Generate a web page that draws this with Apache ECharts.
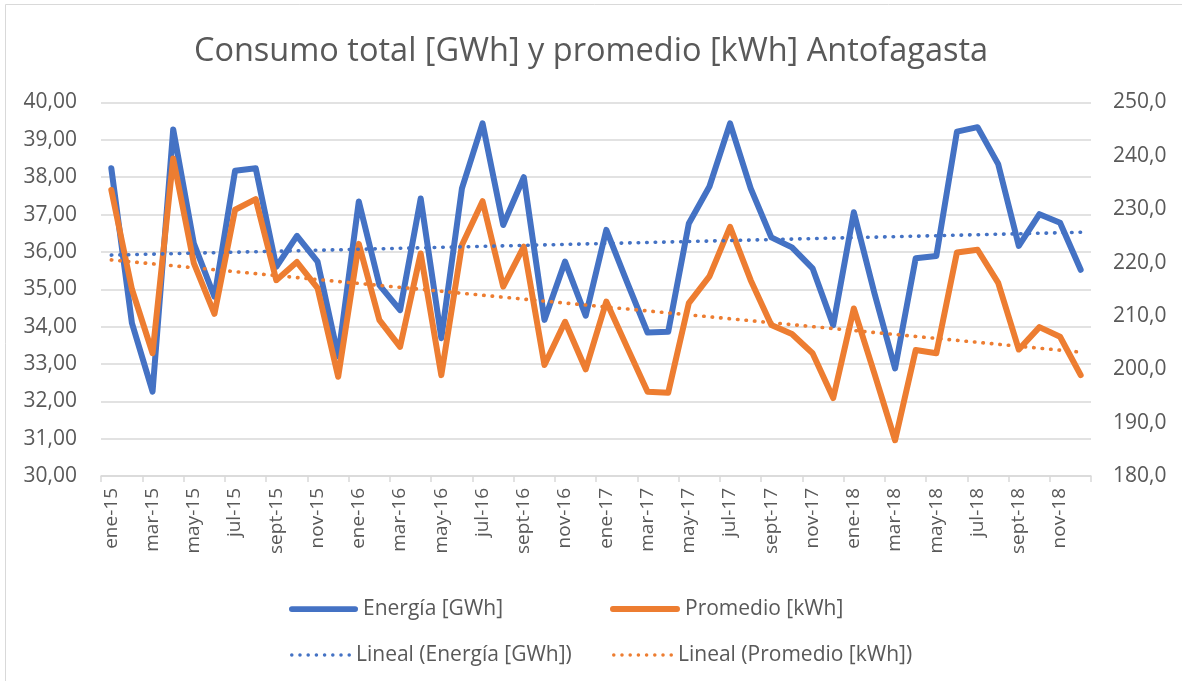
<!DOCTYPE html>
<html>
<head>
<meta charset="utf-8">
<script src="https://cdn.jsdelivr.net/npm/echarts@6/dist/echarts.min.js"></script>
<style>
  html, body { margin: 0; padding: 0; background: #fff; }
  #chart { width: 1182px; height: 681px; }
</style>
</head>
<body>
<div id="chart"></div>
<script>
// Monthly categories, Jan 2015 – Dec 2018
const monthNames = ['ene', 'feb', 'mar', 'abr', 'may', 'jun', 'jul', 'ago', 'sept', 'oct', 'nov', 'dic'];
const years = ['15', '16', '17', '18'];
const categories = [];
years.forEach(y => monthNames.forEach(m => categories.push(m + '-' + y)));

// Total energy consumption [GWh] (left axis)
const energia = [
  38.24, 34.09, 32.26, 39.28, 36.23, 34.80, 38.17, 38.24, 35.60, 36.43, 35.74, 33.20,
  37.35, 35.11, 34.44, 37.43, 33.69, 37.70, 39.44, 36.72, 38.00, 34.18, 35.74, 34.29,
  36.59, 35.20, 33.84, 33.86, 36.76, 37.75, 39.44, 37.70, 36.39, 36.12, 35.56, 34.04,
  37.06, 34.89, 32.88, 35.83, 35.89, 39.22, 39.34, 38.35, 36.16, 37.01, 36.78, 35.52
];

// Average consumption per customer [kWh] (right axis)
const promedio = [
  233.6, 215.0, 203.0, 239.5, 219.9, 210.4, 229.9, 231.9, 216.7, 220.1, 215.2, 198.6,
  223.5, 209.2, 204.2, 221.7, 198.9, 223.3, 231.5, 215.5, 223.0, 200.8, 208.9, 200.0,
  212.7, 204.2, 195.8, 195.6, 212.4, 217.4, 226.7, 216.7, 208.3, 206.6, 203.0, 194.6,
  211.4, 199.2, 186.7, 203.6, 203.0, 221.9, 222.4, 216.2, 203.7, 207.9, 206.1, 198.9
];

// Least-squares linear trend over the month index
function linearTrend(values) {
  const n = values.length;
  let sx = 0, sy = 0, sxx = 0, sxy = 0;
  values.forEach((v, i) => { sx += i; sy += v; sxx += i * i; sxy += i * v; });
  const slope = (n * sxy - sx * sy) / (n * sxx - sx * sx);
  const intercept = (sy - slope * sx) / n;
  return values.map((_, i) => +(intercept + slope * i).toFixed(4));
}

const trendEnergia = linearTrend(energia);
const trendPromedio = linearTrend(promedio);

const textColor = '#595959';
const gridColor = '#d9d9d9';
const fontFamily = '"Open Sans", "Noto Sans", sans-serif';
const blue = '#4472C4';
const orange = '#ED7D31';
const dotted = [0.5, 8];

// Legend icons: a solid bar and a row of round dots
const solidIcon = 'path://M3,0H69A3,3 0 0,1 69,6H3A3,3 0 0,1 3,0Z';
function dotsIcon(count, step, r) {
  let p = 'path://';
  for (let i = 0; i < count; i++) {
    const cx = r + i * step;
    p += 'M' + (cx - r) + ',' + r + 'A' + r + ',' + r + ' 0 1,0 ' + (cx + r) + ',' + r +
         'A' + r + ',' + r + ' 0 1,0 ' + (cx - r) + ',' + r + 'Z';
  }
  return p;
}
const dottedIcon = dotsIcon(8, 8.3, 1.8);

const legendText = { color: textColor, fontFamily: fontFamily, fontSize: 21, lineHeight: 24 };
function legendItem(name, icon, left, top, w, h) {
  return {
    left: left, top: top,
    itemWidth: w, itemHeight: h,
    data: [{ name: name, icon: icon }],
    textStyle: legendText
  };
}

const chart = echarts.init(document.getElementById('chart'), null, { renderer: 'canvas' });

chart.setOption({
  backgroundColor: '#ffffff',
  animation: false,
  textStyle: { fontFamily: fontFamily },
  graphic: [{
    type: 'rect',
    shape: { x: 5.5, y: 4.5, width: 1200, height: 700 },
    style: { fill: 'none', stroke: gridColor, lineWidth: 1 },
    silent: true,
    z: -1
  }],
  title: {
    text: 'Consumo total [GWh] y promedio [kWh] Antofagasta',
    left: 'center',
    top: 27,
    textStyle: {
      color: textColor,
      fontFamily: fontFamily,
      fontSize: 32.5,
      fontWeight: 'normal',
      lineHeight: 40
    }
  },
  legend: [
    legendItem('Energía [GWh]', solidIcon, 284, 592, 69, 6),
    legendItem('Lineal (Energía [GWh])', dottedIcon, 285, 638, 61, 3.6),
    legendItem('Promedio [kWh]', solidIcon, 605, 592, 70, 6),
    legendItem('Lineal (Promedio [kWh])', dottedIcon, 607, 638, 61, 3.6)
  ],
  grid: {
    left: 101,
    right: 91,
    top: 102.5,
    bottom: 205,
    containLabel: false
  },
  xAxis: {
    type: 'category',
    data: categories,
    boundaryGap: true,
    axisLine: { lineStyle: { color: gridColor, width: 1.5 } },
    axisTick: { show: true, interval: 1, length: 6, lineStyle: { color: gridColor, width: 1.5 } },
    axisLabel: {
      interval: 1,
      rotate: 90,
      margin: 12,
      color: textColor,
      fontFamily: fontFamily,
      fontSize: 19
    },
    splitLine: { show: false }
  },
  yAxis: [{
    type: 'value',
    min: 30,
    max: 40,
    interval: 1,
    position: 'left',
    axisLine: { show: false },
    axisTick: { show: false },
    axisLabel: {
      margin: 24,
      color: textColor,
      fontFamily: fontFamily,
      fontSize: 21,
      formatter: v => v.toFixed(2).replace('.', ',')
    },
    splitLine: { lineStyle: { color: gridColor, width: 1.5 } }
  }, {
    type: 'value',
    min: 180,
    max: 250,
    interval: 10,
    position: 'right',
    axisLine: { show: false },
    axisTick: { show: false },
    axisLabel: {
      margin: 22,
      color: textColor,
      fontFamily: fontFamily,
      fontSize: 21,
      formatter: v => v.toFixed(1).replace('.', ',')
    },
    splitLine: { show: false }
  }],
  series: [{
    name: 'Energía [GWh]',
    type: 'line',
    yAxisIndex: 0,
    data: energia,
    symbol: 'none',
    color: blue,
    lineStyle: { color: blue, width: 6, cap: 'round', join: 'round' },
    z: 2
  }, {
    name: 'Promedio [kWh]',
    type: 'line',
    yAxisIndex: 1,
    data: promedio,
    symbol: 'none',
    color: orange,
    lineStyle: { color: orange, width: 6, cap: 'round', join: 'round' },
    z: 3
  }, {
    name: 'Lineal (Energía [GWh])',
    type: 'line',
    yAxisIndex: 0,
    data: trendEnergia,
    symbol: 'none',
    color: blue,
    lineStyle: { color: blue, width: 3.6, type: dotted, cap: 'round' },
    z: 4
  }, {
    name: 'Lineal (Promedio [kWh])',
    type: 'line',
    yAxisIndex: 1,
    data: trendPromedio,
    symbol: 'none',
    color: orange,
    lineStyle: { color: orange, width: 3.6, type: dotted, cap: 'round' },
    z: 4
  }]
});
</script>
</body>
</html>
